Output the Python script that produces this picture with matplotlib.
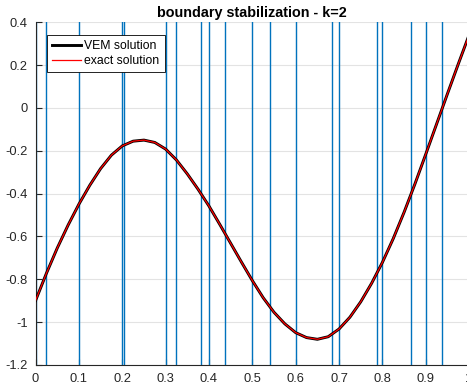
"""
VEM solution vs exact solution with mesh nodes (boundary stabilization, k=2)
"""
import matplotlib
matplotlib.use("Agg")
import matplotlib.pyplot as plt

# mesh nodes (vertical lines)
nodes = [0.0, 0.023, 0.1, 0.2, 0.204, 0.3, 0.323, 0.382, 0.399, 0.438,
         0.5, 0.541, 0.6, 0.684, 0.7, 0.788, 0.8, 0.866, 0.9, 0.937, 1.0]

# solution values (every 0.025)
x_sol = [0.0, 0.025, 0.05, 0.075, 0.1, 0.125, 0.15, 0.175, 0.2, 0.225,
         0.25, 0.275, 0.3, 0.325, 0.35, 0.375, 0.4, 0.425, 0.45, 0.475,
         0.5, 0.525, 0.55, 0.575, 0.6, 0.625, 0.65, 0.675, 0.7, 0.725,
         0.75, 0.775, 0.8, 0.825, 0.85, 0.875, 0.9, 0.925, 0.95, 0.975, 1.0]
u_vem = [-0.899, -0.772, -0.654, -0.547, -0.449, -0.361, -0.283, -0.220, -0.177, -0.155,
         -0.150, -0.161, -0.192, -0.243, -0.308, -0.380, -0.458, -0.544, -0.632, -0.720,
         -0.806, -0.886, -0.954, -1.008, -1.049, -1.072, -1.080, -1.068, -1.032, -0.977,
         -0.905, -0.819, -0.721, -0.610, -0.487, -0.355, -0.216, -0.075, 0.066, 0.205, 0.341]
u_exact = u_vem

plt.rcParams['font.family'] = ['Liberation Sans', 'DejaVu Sans']

fig = plt.figure(figsize=(4.67, 3.88), dpi=100)
ax = fig.add_axes([0.0762, 0.0593, 0.9283, 0.8832])

ax.grid(True, color='#e3e3e3', linewidth=0.8)
ax.set_axisbelow(True)

for xn in nodes:
    ax.axvline(xn, color='#0072BD', linewidth=1.0, zorder=2)

ax.plot(x_sol, u_vem, color='black', linewidth=2.1, label='VEM solution', zorder=3)
ax.plot(x_sol, u_exact, color='red', linewidth=0.9, label='exact solution', zorder=4)

ax.set_xlim(0, 1)
ax.set_ylim(-1.2, 0.4)
ax.set_xticks([i / 10 for i in range(11)])
ax.set_xticklabels(['0', '0.1', '0.2', '0.3', '0.4', '0.5', '0.6', '0.7', '0.8', '0.9', '1'])
ax.set_yticks([-1.2, -1, -0.8, -0.6, -0.4, -0.2, 0, 0.2, 0.4])
ax.set_yticklabels(['-1.2', '-1', '-0.8', '-0.6', '-0.4', '-0.2', '0', '0.2', '0.4'])

ax.tick_params(direction='in', length=4, width=0.8, colors='#262626',
               labelsize=9.3, pad=5.5)
for side in ['top', 'right']:
    ax.spines[side].set_visible(False)
for side in ['left', 'bottom']:
    ax.spines[side].set_color('#262626')
    ax.spines[side].set_linewidth(0.8)

ax.set_title('boundary stabilization - k=2', fontsize=10.4, fontweight='bold', pad=4)

leg = ax.legend(loc='upper left', bbox_to_anchor=(0.0256, 0.963), fontsize=8.8,
                frameon=True, fancybox=False, framealpha=1, edgecolor='black',
                handlelength=2.36, handletextpad=0.3, borderpad=0.42,
                labelspacing=0.25, borderaxespad=0)
leg.get_frame().set_linewidth(0.6)

plt.savefig('out.png', dpi=100)
